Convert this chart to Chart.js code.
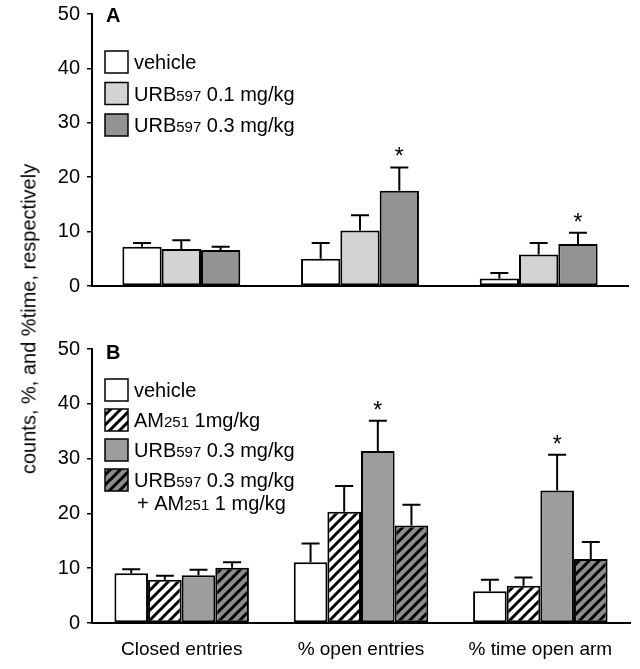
<!DOCTYPE html>
<html>
<head>
<meta charset="utf-8">
<script src="https://cdn.jsdelivr.net/npm/chart.js@4/dist/chart.umd.min.js"></script>
<style>
body { margin: 0; background: #fff; }
#wrap { position: relative; width: 640px; height: 669px; }
#chartA { position: absolute; left: 0; top: 0; }
#chartB { position: absolute; left: 0; top: 300px; }
#ytitle { position: absolute; left: 29px; top: 319px; transform: translate(-50%, -50%) rotate(-90deg);
  white-space: nowrap; font: 20px 'Liberation Sans', Arial, sans-serif; color: #000; }
</style>
</head>
<body>
<div id="wrap">
  <canvas id="chartA" width="640" height="300"></canvas>
  <canvas id="chartB" width="640" height="369"></canvas>
  <div id="ytitle">counts, %, and %time, respectively</div>
</div>
<script>
'use strict';
let categories = ['Closed entries', '% open entries', '% time open arm'];
let yTicks = [0, 10, 20, 30, 40, 50];

// panel A
let namesA = ['vehicle', 'URB597 0.1 mg/kg', 'URB597 0.3 mg/kg'];
let vehicleA = [7.2, 5.0, 1.4];
let vehicleAErr = [0.7, 2.9, 1.0];
let urb01A = [6.8, 10.2, 5.8];
let urb01AErr = [1.6, 2.8, 2.1];
let urb03A = [6.6, 17.5, 7.7];
let urb03AErr = [0.6, 4.3, 2.1];
let starsA = [1, 2];   // categories with * on URB597 0.3

// panel B
let namesB = ['vehicle', 'AM251 1mg/kg', 'URB597 0.3 mg/kg', 'URB597 0.3 mg/kg|+ AM251 1 mg/kg'];
let vehicleB = [9.1, 11.1, 5.8];
let vehicleBErr = [0.7, 3.4, 2.1];
let am251B = [7.9, 20.3, 6.8];
let am251BErr = [0.7, 4.7, 1.5];
let urb03B = [8.7, 31.4, 24.2];
let urb03BErr = [1.0, 5.5, 6.5];
let comboB = [10.1, 17.8, 11.7];
let comboBErr = [1.0, 3.8, 3.1];
let starsB = [1, 2];   // categories with * on URB597 0.3

let FONT = "'Liberation Sans', Arial, sans-serif";
Chart.defaults.font.family = FONT;
Chart.defaults.color = '#000';

function hatch(bg) {
    let c = document.createElement('canvas');
    c.width = 10; c.height = 10;
    let x = c.getContext('2d');
    x.fillStyle = bg;
    x.fillRect(0, 0, 10, 10);
    x.strokeStyle = '#000';
    x.lineWidth = 3;
    x.beginPath();
    x.moveTo(-2, 12); x.lineTo(12, -2);
    x.moveTo(-2, 2); x.lineTo(2, -2);
    x.moveTo(8, 12); x.lineTo(12, 8);
    x.stroke();
    return x.createPattern(c, 'repeat');
}

// text like URB597 -> digits drawn smaller
function richText(ctx, text, x, y) {
    let parts = text.split(/(?<=[A-Z])(\d+)/);
    ctx.textAlign = 'left';
    ctx.textBaseline = 'alphabetic';
    for (let i = 0; i < parts.length; i++) {
        ctx.font = (i % 2 ? '15px ' : '20px ') + FONT;
        ctx.fillText(parts[i], x, y);
        x += ctx.measureText(parts[i]).width;
    }
}

let extras = {
    id: 'extras',
    afterDatasetsDraw(chart, args, opts) {
        let ctx = chart.ctx;
        let yScale = chart.scales.y;
        ctx.save();
        chart.data.datasets.forEach(function (ds, i) {
            let meta = chart.getDatasetMeta(i);
            meta.data.forEach(function (bar, j) {
                let top = yScale.getPixelForValue(ds.data[j] + ds.err[j]);
                ctx.strokeStyle = '#000';
                ctx.lineWidth = 2;
                ctx.beginPath();
                ctx.moveTo(bar.x, bar.y);
                ctx.lineTo(bar.x, top);
                ctx.moveTo(bar.x - 9, top);
                ctx.lineTo(bar.x + 9, top);
                ctx.stroke();
                if (ds.stars && ds.stars.includes(j)) {
                    ctx.fillStyle = '#000';
                    ctx.font = '23px ' + FONT;
                    ctx.textAlign = 'center';
                    ctx.textBaseline = 'alphabetic';
                    ctx.fillText('*', bar.x, top - 3);
                }
            });
        });

        // panel letter
        ctx.fillStyle = '#000';
        ctx.font = 'bold 20px ' + FONT;
        ctx.textAlign = 'left';
        ctx.textBaseline = 'alphabetic';
        ctx.fillText(opts.letter, 106, opts.letterY);

        // legend
        let rowY = opts.legendTop;
        chart.data.datasets.forEach(function (ds) {
            ctx.fillStyle = ds.backgroundColor;
            ctx.fillRect(105, rowY, 23, 22);
            ctx.strokeStyle = '#000';
            ctx.lineWidth = 1.5;
            ctx.strokeRect(105, rowY, 23, 22);
            ctx.fillStyle = '#000';
            let lines = ds.label.split('|');
            for (let k = 0; k < lines.length; k++) {
                richText(ctx, lines[k], k ? 137 : 134, rowY + 18 + k * 23);
            }
            rowY += opts.rowGap;
        });
        ctx.restore();
    }
};

function makeChart(id, datasets, pad, xHeight, showLabels, group, legend) {
    let ctx = document.getElementById(id).getContext('2d');
    return new Chart(ctx, {
        type: 'bar',
        data: { labels: categories, datasets: datasets },
        options: {
            responsive: false,
            animation: false,
            events: [],
            layout: { padding: pad },
            datasets: { bar: { categoryPercentage: group, barPercentage: 1 } },
            plugins: { legend: { display: false }, tooltip: { enabled: false }, extras: legend },
            scales: {
                x: {
                    grid: { display: false, drawTicks: false },
                    border: { display: true, color: '#000', width: 2 },
                    ticks: { display: showLabels, font: { size: 19 }, padding: 15 },
                    afterFit: function (s) { s.height = xHeight; }
                },
                y: {
                    min: 0, max: 50,
                    afterBuildTicks: function (s) { s.ticks = yTicks.map(function (v) { return { value: v }; }); },
                    grid: { display: true, drawOnChartArea: false, drawTicks: true, tickLength: 5, color: '#000', lineWidth: 1.5 },
                    border: { display: true, color: '#000', width: 2 },
                    ticks: { font: { size: 20 }, padding: 7 },
                    afterFit: function (s) {
                        s.width = 92;
                        s.paddingTop = 0;
                        s.paddingBottom = 0;
                    }
                }
            }
        },
        plugins: [extras]
    });
}

function bar(label, data, err, bg, stars) {
    return { label: label, data: data, err: err, stars: stars, backgroundColor: bg,
        borderColor: '#000', borderWidth: 2, borderSkipped: false };
}

makeChart('chartA', [
    bar(namesA[0], vehicleA, vehicleAErr, '#ffffff'),
    bar(namesA[1], urb01A, urb01AErr, '#d3d3d3'),
    bar(namesA[2], urb03A, urb03AErr, '#939393', starsA)
], { top: 14, bottom: 14, left: 0, right: 12 }, 0, false, 0.66,
   { letter: 'A', letterY: 22, legendTop: 51, rowGap: 31.5 });

makeChart('chartB', [
    bar(namesB[0], vehicleB, vehicleBErr, '#ffffff'),
    bar(namesB[1], am251B, am251BErr, hatch('#ffffff')),
    bar(namesB[2], urb03B, urb03BErr, '#9d9d9d', starsB),
    bar(namesB[3], comboB, comboBErr, hatch('#8c8c8c'))
], { top: 49, bottom: 0, left: 0, right: 10 }, 46, true, 0.75,
   { letter: 'B', letterY: 59, legendTop: 79, rowGap: 30 });
</script>
</body>
</html>
